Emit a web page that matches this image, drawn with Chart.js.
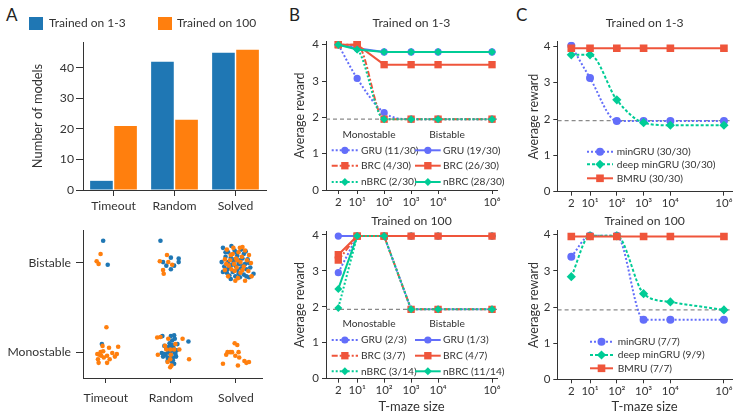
<!DOCTYPE html>
<html><head><meta charset="utf-8">
<script src="https://cdn.jsdelivr.net/npm/chart.js@4.4.1/dist/chart.umd.min.js"></script>
<style>
html,body{margin:0;padding:0;background:#fff;}
body{width:744px;height:419px;overflow:hidden;position:relative;font-family:Lato,"Noto Sans",sans-serif;}
canvas{position:absolute;}
.lbl{position:absolute;font-size:17px;line-height:17px;color:#222;}
</style></head><body>
<div class="lbl" style="left:6px;top:6px">A</div>
<div class="lbl" style="left:289px;top:6px">B</div>
<div class="lbl" style="left:516px;top:6px">C</div>
<canvas id="cA1" width="270" height="215" style="left:0;top:0"></canvas>
<canvas id="cA2" width="266" height="204" style="left:0;top:215px"></canvas>
<canvas id="cB1" width="216" height="212" style="left:292px;top:0"></canvas>
<canvas id="cB2" width="216" height="212" style="left:292px;top:207px"></canvas>
<canvas id="cC1" width="218" height="212" style="left:526px;top:0"></canvas>
<canvas id="cC2" width="218" height="212" style="left:526px;top:207px"></canvas>
<script>
// ---------------- DATA ----------------
const categories = ['Timeout', 'Random', 'Solved'];
const countsTrained13 = [3, 42, 45];
const countsTrained100 = [21, 23, 46];
const countTicks = [0, 10, 20, 30, 40];

const stabilityLabels = ['Monostable', 'Bistable'];
const stabilityTicks = [0, 1];
const categoryTicks = [0, 1, 2];
// jittered strip points [category position, stability position]
const scatterTrained13 = [
  [-0.04,1.25],[0.03,0.98],[-0.06,0.09],
  [0.84,1.25],[1.00,1.06],[1.12,1.05],[0.88,1.01],[1.12,1.01],[0.93,0.97],[1.05,0.97],[1.00,0.93],
  [0.87,0.18],[1.00,0.18],[1.05,0.19],[1.02,0.13],[1.27,0.12],[1.02,0.08],[1.09,0.02],[0.97,0.01],
  [0.86,-0.01],[0.92,-0.03],[0.88,-0.05],[0.95,-0.06],[1.08,-0.05],[1.03,-0.09],[1.05,-0.13],
  [0.98,0.10],[1.04,0.05],[0.93,0.04],[1.06,0.00],[1.01,0.02],[0.96,0.00],[0.90,-0.02],[1.00,-0.03],
  [0.95,-0.10],[1.03,-0.06],[0.98,-0.08],[1.02,-0.11],[0.97,0.06],[1.10,0.09],[0.90,0.07],[1.06,0.15],
  [1.01,0.04],[0.99,-0.01],[1.07,-0.02],
  [1.80,1.17],[1.93,1.19],[1.88,1.12],[1.98,1.14],[2.08,1.15],[2.12,1.10],[1.84,1.07],[1.92,1.06],
  [2.02,1.08],[2.10,1.05],[2.18,1.04],[1.78,1.01],[1.88,1.01],[1.96,1.02],[2.04,1.00],[2.14,0.99],
  [2.20,1.00],[1.82,0.96],[1.90,0.95],[2.00,0.96],[2.08,0.94],[2.16,0.93],[1.80,0.90],[1.86,0.89],
  [1.95,0.90],[2.04,0.88],[2.12,0.87],[2.27,0.88],[1.92,0.82],[2.06,0.84],[2.20,0.84],[1.84,1.12],
  [2.00,1.12],[2.15,1.13],[1.98,1.04],[2.06,1.03],[1.94,0.98],[2.11,0.97],[2.02,0.92],[1.90,0.86],
  [2.16,0.85],[1.99,0.85],[1.87,0.93],[2.05,0.99],[2.22,0.95]
];
const scatterTrained100 = [
  [-0.08,1.10],[-0.14,1.02],[-0.11,0.99],
  [0.01,0.28],[-0.05,0.07],[0.05,0.05],[0.19,0.06],[-0.04,0.01],[0.10,-0.01],[0.17,-0.02],[-0.13,-0.02],
  [-0.10,-0.03],[-0.07,-0.04],[0.02,-0.04],[0.14,-0.05],[-0.03,-0.06],[-0.12,-0.08],[0.06,-0.08],
  [-0.11,-0.12],[0.02,-0.12],[-0.08,0.00],
  [0.94,1.09],[0.83,1.02],[0.96,1.01],[1.02,0.98],[0.88,0.92],[0.89,0.88],
  [0.79,0.165],[0.96,0.15],[1.18,0.15],[0.91,0.07],[0.93,0.03],[0.99,0.03],[1.05,0.03],[1.13,0.03],
  [0.80,-0.03],[1.00,-0.03],[0.99,-0.08],[1.28,-0.08],[0.99,-0.17],[1.01,-0.15],[0.84,0.17],[1.07,0.09],[0.95,-0.11],
  [2.06,1.17],[2.10,1.18],[1.96,1.17],[1.86,1.15],[2.14,1.14],[2.20,1.09],[1.95,1.10],[2.04,1.12],
  [1.83,1.04],[1.91,1.03],[2.00,1.05],[2.09,1.07],[2.17,1.03],[1.97,0.99],[2.07,1.01],[2.23,1.00],
  [1.85,0.99],[1.93,0.93],[2.01,0.95],[2.10,0.92],[2.19,0.91],[1.83,0.92],[1.98,0.91],[2.07,0.89],
  [1.88,0.85],[1.99,0.80],[2.14,0.80],[2.24,0.85],[2.03,0.83],[1.92,1.09],[2.12,0.96],[1.89,0.97],[2.02,1.03],
  [1.98,0.10],[2.02,0.08],[1.87,0.00],[1.91,0.00],[1.94,0.00],[2.04,0.00],[1.85,-0.03],[1.99,-0.04],
  [2.05,-0.06],[2.13,-0.10],[2.16,-0.12],[2.20,-0.11],[1.80,-0.13],[2.03,-0.15]
];

const mazeSizes = [2, 10, 100, 1000, 10000, 1000000];
const mazeTickLabels = ['2', '10\u00B9', '10\u00B2', '10\u00B3', '10\u2074', '10\u2076'];
const rewardTicks = [0, 1, 2, 3, 4];

// Panel B, trained on 1-3
const gruMono13  = [4.00, 3.07, 2.13, 1.95, 1.95, 1.95];
const brcMono13  = [4.00, 4.00, 1.95, 1.95, 1.95, 1.95];
const nbrcMono13 = [4.00, 3.87, 1.95, 1.95, 1.95, 1.95];
const gruBi13    = [4.00, 3.90, 3.80, 3.80, 3.80, 3.80];
const brcBi13    = [4.00, 4.00, 3.45, 3.45, 3.45, 3.45];
const nbrcBi13   = [4.00, 3.87, 3.80, 3.80, 3.80, 3.80];
// Panel B, trained on 100
const gruMono100  = [2.95, 3.97, 3.97, 1.93, 1.93, 1.93];
const brcMono100  = [3.30, 3.97, 3.97, 1.93, 1.93, 1.93];
const nbrcMono100 = [1.97, 3.97, 3.97, 1.93, 1.93, 1.93];
const gruBi100    = [3.97, 3.97, 3.97, 3.97, 3.97, 3.97];
const brcBi100    = [3.45, 3.97, 3.97, 3.97, 3.97, 3.97];
const nbrcBi100   = [2.50, 3.97, 3.97, 3.97, 3.97, 3.97];
// Panel C
const minGru13      = [4.02, 3.13, 1.95, 1.95, 1.95, 1.95];
const deepMinGru13  = [3.77, 3.77, 2.53, 1.90, 1.83, 1.83];
const bmru13        = [3.95, 3.95, 3.95, 3.95, 3.95, 3.95];
const minGru100     = [3.39, 3.97, 3.97, 1.65, 1.65, 1.65];
const deepMinGru100 = [2.84, 3.97, 3.97, 2.37, 2.14, 1.92];
const bmru100       = [3.95, 3.95, 3.95, 3.95, 3.95, 3.95];
// chance level (dashed grey)
const chanceB13 = 1.95, chanceB100 = 1.93, chanceC13 = 1.96, chanceC100 = 1.92;

// ---------------- STYLE ----------------
const FONT = 'Lato, "Noto Sans", sans-serif';
const TX = '#333';
const AX = '#333';
const BLUE = '#1f77b4', ORANGE = '#ff7f0e';
const C_GRU = '#636efa', C_BRC = '#ef553b', C_NBRC = '#00cc96';
const DOT = [2, 2], DASHDOT = [6, 2, 2, 2], SHORTDASH = [3, 2];

function drawMarker(ctx, style, r, x, y) {
  ctx.beginPath();
  if (style === 'circle') ctx.arc(x, y, r, 0, Math.PI * 2);
  else if (style === 'rect') { const s = Math.SQRT1_2 * r; ctx.rect(x - s, y - s, 2 * s, 2 * s); }
  else if (style === 'rectRot') { ctx.moveTo(x - r, y); ctx.lineTo(x, y - r); ctx.lineTo(x + r, y); ctx.lineTo(x, y + r); ctx.closePath(); }
  ctx.fill();
}

const legendPlugin = {
  id: 'customLegend',
  afterDatasetsDraw(chart, args, opts) {
    const items = opts.items; if (!items) return;
    const ctx = chart.ctx; ctx.save();
    ctx.textBaseline = 'middle';
    ctx.font = (opts.size || 11) + 'px ' + FONT;
    for (const it of items) {
      ctx.fillStyle = TX;
      if (it.header) { ctx.textAlign = 'center'; ctx.fillText(it.header, it.x, it.y); continue; }
      const ds = chart.data.datasets[it.ds];
      if (it.box) {
        ctx.fillStyle = ds.backgroundColor; ctx.fillRect(it.x, it.y - it.h / 2, it.w, it.h);
      } else {
        ctx.strokeStyle = ds.borderColor; ctx.lineWidth = ds.borderWidth; ctx.setLineDash(ds.borderDash || []);
        ctx.beginPath(); ctx.moveTo(it.x, it.y); ctx.lineTo(it.x + it.w, it.y); ctx.stroke(); ctx.setLineDash([]);
        ctx.fillStyle = ds.pointBackgroundColor;
        drawMarker(ctx, ds.pointStyle, ds.pointRadius, it.x + it.w / 2, it.y);
      }
      ctx.fillStyle = TX; ctx.textAlign = 'left';
      ctx.fillText(ds.label, it.tx, it.y);
    }
    ctx.restore();
  }
};
Chart.register(legendPlugin);
Chart.defaults.font.family = FONT;
Chart.defaults.color = TX;

const baseOpts = () => ({
  responsive: false, animation: false, devicePixelRatio: 1,
  events: [],
  plugins: { legend: { display: false }, tooltip: { enabled: false } }
});

function series(label, ys, color, style, radius, dash, order, smooth) {
  return {
    label, data: mazeSizes.map((x, i) => ({ x, y: ys[i] })),
    borderColor: color, backgroundColor: color, pointBackgroundColor: color, pointBorderColor: color,
    pointBorderWidth: 0, pointStyle: style, pointRadius: radius, borderWidth: 2,
    borderDash: dash, order, cubicInterpolationMode: smooth ? 'monotone' : 'default', tension: 0
  };
}
function chanceLine(y, xmin, xmax) {
  return { label: 'chance', data: [{ x: xmin, y }, { x: xmax, y }], borderColor: '#8a8a8a', borderDash: [4, 3],
    borderWidth: 1.3, pointRadius: 0, order: 20 };
}
function rewardY(max, width) {
  return {
    min: 0, max,
    afterBuildTicks: s => { s.ticks = rewardTicks.map(v => ({ value: v })); },
    afterFit: s => { s.width = width; },
    grid: { drawOnChartArea: false, tickLength: 4, color: AX },
    border: { color: AX },
    ticks: { color: TX, font: { family: FONT, size: 11.5 }, padding: 3 },
    title: { display: true, text: 'Average reward', color: TX, font: { family: FONT, size: 12.5 }, padding: { top: 0, bottom: 0 } }
  };
}
function mazeX(min, max, height, withTitle) {
  return {
    type: 'logarithmic', min, max,
    afterBuildTicks: s => { s.ticks = mazeSizes.map(v => ({ value: v })); },
    afterFit: s => { s.height = height; },
    grid: { drawOnChartArea: false, tickLength: 4, color: AX },
    border: { color: AX },
    ticks: { color: TX, font: { family: FONT, size: 11.5 }, padding: 1, autoSkip: false, maxRotation: 0, minRotation: 0,
      callback: (v, i) => mazeTickLabels[i] },
    title: { display: withTitle, text: 'T-maze size', color: TX, font: { family: FONT, size: 13 }, padding: { top: 0, bottom: 4.5 } }
  };
}
function subTitle(text, top, bottom) {
  return { display: true, text, fullSize: false, color: TX, font: { family: FONT, size: 12.2, weight: 'normal' }, padding: { top, bottom } };
}

// ---------------- PANEL A (bars) ----------------
(() => {
  const o = baseOpts();
  o.layout = { padding: { top: 42, right: 4, left: 0, bottom: 0 } };
  o.scales = {
    x: { type: 'category', afterFit: s => { s.height = 25; },
      grid: { drawOnChartArea: false, offset: false, tickLength: 6, color: AX }, border: { color: AX },
      ticks: { color: TX, font: { family: FONT, size: 12.2 }, padding: 3 } },
    y: { min: 0, max: 48.5,
      afterBuildTicks: s => { s.ticks = countTicks.map(v => ({ value: v })); },
      afterFit: s => { s.width = 83; },
      grid: { drawOnChartArea: false, tickLength: 7, color: AX }, border: { color: AX },
      ticks: { color: TX, font: { family: FONT, size: 12.2 }, padding: 2 },
      title: { display: true, text: 'Number of models', color: TX, font: { family: FONT, size: 12.8 }, padding: { top: 30, bottom: 0 } } }
  };
  o.plugins.customLegend = { size: 12, items: [
    { ds: 0, box: true, x: 29, y: 23.5, w: 14, h: 13, tx: 49 },
    { ds: 1, box: true, x: 158, y: 23.5, w: 14, h: 13, tx: 177 }
  ] };
  new Chart(document.getElementById('cA1'), {
    type: 'bar',
    data: { labels: categories, datasets: [
      { label: 'Trained on 1-3', data: countsTrained13, backgroundColor: BLUE, categoryPercentage: 0.79, barPercentage: 0.94 },
      { label: 'Trained on 100', data: countsTrained100, backgroundColor: ORANGE, categoryPercentage: 0.79, barPercentage: 0.94 }
    ] },
    options: o
  });
})();

// ---------------- PANEL A (strip) ----------------
(() => {
  const o = baseOpts();
  o.layout = { padding: { top: 15, right: 4, left: 0, bottom: 0 } };
  o.scales = {
    x: { type: 'linear', min: -0.35, max: 2.4,
      afterBuildTicks: s => { s.ticks = categoryTicks.map(v => ({ value: v })); },
      afterFit: s => { s.height = 41; },
      grid: { drawOnChartArea: false, tickLength: 5, color: AX }, border: { color: AX },
      ticks: { color: TX, font: { family: FONT, size: 12.2 }, padding: 8, callback: (v, i) => categories[i] } },
    y: { type: 'linear', min: -0.29, max: 1.37,
      afterBuildTicks: s => { s.ticks = stabilityTicks.map(v => ({ value: v })); },
      afterFit: s => { s.width = 83; },
      grid: { drawOnChartArea: false, tickLength: 7, color: AX }, border: { color: AX },
      ticks: { color: TX, font: { family: FONT, size: 12.2 }, padding: 5, callback: (v, i) => stabilityLabels[i] } }
  };
  new Chart(document.getElementById('cA2'), {
    type: 'scatter',
    data: { datasets: [
      { label: 'Trained on 1-3', data: scatterTrained13.map(p => ({ x: p[0], y: p[1] })), backgroundColor: BLUE, pointRadius: 2.3, pointBorderWidth: 0, order: 1 },
      { label: 'Trained on 100', data: scatterTrained100.map(p => ({ x: p[0], y: p[1] })), backgroundColor: ORANGE, pointRadius: 2.3, pointBorderWidth: 0, order: 0 }
    ] },
    options: o
  });
})();

// ---------------- PANEL B ----------------
function bLegend(y0, rows) {
  return { size: 10.2, items: [
    { header: 'Monostable', x: 77, y: y0 },
    { header: 'Bistable', x: 155, y: y0 },
    { ds: 0, x: 39.7, y: rows[0], w: 26.3, tx: 69 },
    { ds: 1, x: 39.7, y: rows[1], w: 26.3, tx: 69 },
    { ds: 2, x: 39.7, y: rows[2], w: 26.3, tx: 69 },
    { ds: 3, x: 123, y: rows[0], w: 25.7, tx: 151 },
    { ds: 4, x: 123, y: rows[1], w: 25.7, tx: 151 },
    { ds: 5, x: 123, y: rows[2], w: 25.7, tx: 151 }
  ] };
}
(() => {
  const o = baseOpts();
  o.layout = { padding: { top: 0, right: 11, left: 0, bottom: 0 } };
  o.plugins.title = subTitle('Trained on 1-3', 16, 10.4);
  o.scales = { x: mazeX(0.7, 1.53e6, 22, false), y: rewardY(4.1, 34) };
  o.plugins.customLegend = bLegend(135, [150.3, 165.7, 182]);
  new Chart(document.getElementById('cB1'), {
    type: 'line',
    data: { datasets: [
      series('GRU (11/30)', gruMono13, C_GRU, 'circle', 3.6, DOT, 5, true),
      series('BRC (4/30)', brcMono13, C_BRC, 'rect', 5.2, DASHDOT, 4, true),
      series('nBRC (2/30)', nbrcMono13, C_NBRC, 'rectRot', 4, DOT, 3, true),
      series('GRU (19/30)', gruBi13, C_GRU, 'circle', 3.6, [], 2, false),
      series('BRC (26/30)', brcBi13, C_BRC, 'rect', 5.2, [], 1, false),
      series('nBRC (28/30)', nbrcBi13, C_NBRC, 'rectRot', 4, [], 0, false),
      chanceLine(chanceB13, 0.7, 1.53e6)
    ] },
    options: o
  });
})();
(() => {
  const o = baseOpts();
  o.layout = { padding: { top: 0, right: 11, left: 0, bottom: 0 } };
  o.plugins.title = subTitle('Trained on 100', 6.9, 2.5);
  o.scales = { x: mazeX(0.7, 1.53e6, 40.3, true), y: rewardY(4.11, 34) };
  o.plugins.customLegend = bLegend(117, [133, 148.7, 164.3]);
  new Chart(document.getElementById('cB2'), {
    type: 'line',
    data: { datasets: [
      series('GRU (2/3)', gruMono100, C_GRU, 'circle', 3.6, DOT, 5, false),
      series('BRC (3/7)', brcMono100, C_BRC, 'rect', 5.2, DASHDOT, 1, false),
      series('nBRC (3/14)', nbrcMono100, C_NBRC, 'rectRot', 4, DOT, 0, false),
      series('GRU (1/3)', gruBi100, C_GRU, 'circle', 3.6, [], 4, false),
      series('BRC (4/7)', brcBi100, C_BRC, 'rect', 5.2, [], 2, false),
      series('nBRC (11/14)', nbrcBi100, C_NBRC, 'rectRot', 4, [], 3, false),
      chanceLine(chanceB100, 0.7, 1.53e6)
    ] },
    options: o
  });
})();

// ---------------- PANEL C ----------------
function cLegend(rows, x, w, tx) {
  return { size: 10.2, items: [
    { ds: 0, x, y: rows[0], w, tx },
    { ds: 1, x, y: rows[1], w, tx },
    { ds: 2, x, y: rows[2], w, tx }
  ] };
}
(() => {
  const o = baseOpts();
  o.layout = { padding: { top: 0, right: 12, left: 0, bottom: 0 } };
  o.plugins.title = subTitle('Trained on 1-3', 16, 11.1);
  o.scales = { x: mazeX(0.616, 2e6, 20.3, false), y: rewardY(4.13, 31.3) };
  o.plugins.customLegend = cLegend([151.7, 164.3, 178.3], 61, 26, 90.7);
  new Chart(document.getElementById('cC1'), {
    type: 'line',
    data: { datasets: [
      series('minGRU (30/30)', minGru13, C_GRU, 'circle', 4, DOT, 2, true),
      series('deep minGRU (30/30)', deepMinGru13, C_NBRC, 'rectRot', 4.6, SHORTDASH, 1, true),
      series('BMRU (30/30)', bmru13, C_BRC, 'rect', 5.4, [], 0, false),
      chanceLine(chanceC13, 0.616, 2e6)
    ] },
    options: o
  });
})();
(() => {
  const o = baseOpts();
  o.layout = { padding: { top: 0, right: 12, left: 0, bottom: 0 } };
  o.plugins.title = subTitle('Trained on 100', 6.9, 2.2);
  o.scales = { x: mazeX(0.616, 2e6, 39.7, true), y: rewardY(4.11, 31.3) };
  o.plugins.customLegend = cLegend([134.7, 148, 161.3], 64, 23, 91.7);
  new Chart(document.getElementById('cC2'), {
    type: 'line',
    data: { datasets: [
      series('minGRU (7/7)', minGru100, C_GRU, 'circle', 4, DOT, 2, true),
      series('deep minGRU (9/9)', deepMinGru100, C_NBRC, 'rectRot', 4.6, SHORTDASH, 1, true),
      series('BMRU (7/7)', bmru100, C_BRC, 'rect', 5.4, [], 0, false),
      chanceLine(chanceC100, 0.616, 2e6)
    ] },
    options: o
  });
})();
</script>
</body></html>
